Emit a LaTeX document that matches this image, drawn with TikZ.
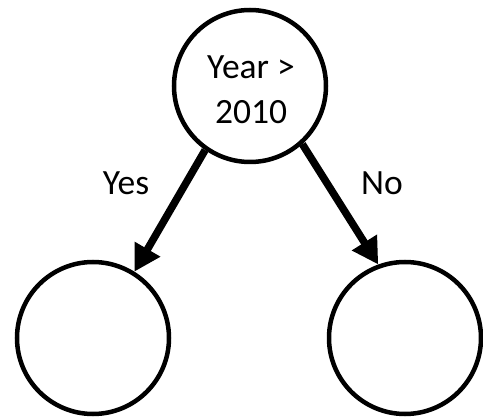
\documentclass[tikz,border=0pt]{standalone}
\usepackage{fontspec}
\setmainfont{Carlito}
\usetikzlibrary{arrows.meta}
\begin{document}
\begin{tikzpicture}[x=1pt,y=-1pt,
  treenode/.style={draw=black,circle,line width=4.5pt,minimum size=152pt,inner sep=0pt},
  branch/.style={line width=7.5pt,-{Triangle[length=26pt,width=28pt]}},
  lbl/.style={font=\fontsize{35.5}{45}\selectfont,inner sep=0pt}]
  \useasboundingbox (0,0) rectangle (483,417);
  % decision node and its two leaves
  \node[treenode] (root) at (250,86) {};
  \node[lbl,align=center] (rootlabel) at (251,90) {Year >\\2010};
  \node[treenode] (left) at (93,338) {};
  \node[treenode] (right) at (405,338) {};
  % branches
  \draw[branch] (root.235) -- (left.58);
  \draw[branch] (root.312) -- (right.110);
  % branch labels
  \node[lbl,anchor=base] (yes) at (126,195) {Yes};
  \node[lbl,anchor=base] (no) at (382,195) {No};
\end{tikzpicture}
\end{document}
